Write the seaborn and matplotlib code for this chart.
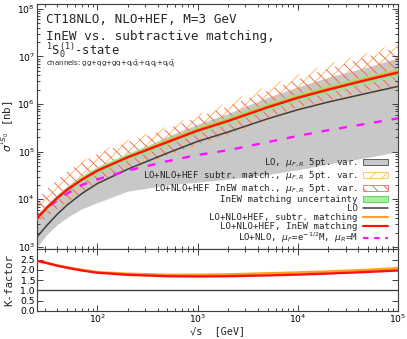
import numpy as np
import pandas as pd
import matplotlib
matplotlib.use("Agg")
import matplotlib.pyplot as plt
import seaborn as sns
from matplotlib.patches import Patch
from matplotlib.lines import Line2D
from matplotlib.ticker import LogLocator, NullFormatter, LogFormatterMathtext, FormatStrFormatter

# --- data ------------------------------------------------------------------
sqrt_s = [25, 31.6, 40, 50, 70, 100, 200, 500, 1000, 2000, 5000, 1e4, 2e4, 5e4, 1e5]

# log10(sigma / nb)
lg_lo = [3.21, 3.46, 3.69, 3.88, 4.12, 4.33, 4.63, 4.97, 5.215, 5.41, 5.69, 5.88, 6.04, 6.23, 6.37]
lg_subtr = [3.59, 3.83, 4.03, 4.21, 4.42, 4.61, 4.89, 5.22, 5.46, 5.66, 5.95, 6.15, 6.32, 6.53, 6.69]
lg_inew = [3.60, 3.83, 4.03, 4.20, 4.41, 4.60, 4.88, 5.20, 5.44, 5.64, 5.93, 6.13, 6.30, 6.51, 6.66]
lg_nlo = [3.62, 3.82, 3.98, 4.12, 4.30, 4.42, 4.60, 4.80, 4.93, 5.03, 5.20, 5.33, 5.45, 5.59, 5.70]

lg_lo_up = [3.63, 3.85, 4.05, 4.20, 4.40, 4.58, 4.92, 5.32, 5.58, 5.80, 6.14, 6.36, 6.56, 6.78, 6.97]
lg_lo_dn = [3.00, 3.27, 3.47, 3.62, 3.80, 3.93, 4.17, 4.30, 4.36, 4.42, 4.52, 4.62, 4.74, 4.88, 5.00]
lg_subtr_up = [3.96, 4.22, 4.43, 4.60, 4.80, 4.99, 5.24, 5.53, 5.78, 6.03, 6.38, 6.62, 6.84, 7.08, 7.28]
lg_subtr_dn = [3.43, 3.60, 3.77, 3.91, 4.11, 4.33, 4.60, 4.90, 5.12, 5.32, 5.62, 5.83, 6.00, 6.18, 6.32]
lg_inew_up = [3.98, 4.22, 4.42, 4.58, 4.77, 4.95, 5.20, 5.48, 5.72, 5.95, 6.28, 6.52, 6.74, 7.00, 7.20]
lg_inew_dn = [3.45, 3.63, 3.80, 3.94, 4.14, 4.38, 4.63, 4.92, 5.15, 5.36, 5.72, 5.93, 6.08, 6.27, 6.40]
lg_match_up = [3.66, 3.90, 4.11, 4.28, 4.50, 4.69, 4.97, 5.29, 5.53, 5.74, 6.03, 6.23, 6.40, 6.61, 6.76]
lg_match_dn = [3.56, 3.78, 3.98, 4.15, 4.35, 4.54, 4.82, 5.14, 5.38, 5.58, 5.87, 6.07, 6.24, 6.44, 6.59]

k_subtr = [2.42, 2.32, 2.21, 2.12, 2.00, 1.89, 1.81, 1.76, 1.76, 1.78, 1.83, 1.87, 1.92, 2.00, 2.08]
k_inew = [2.45, 2.33, 2.20, 2.10, 1.97, 1.86, 1.76, 1.69, 1.68, 1.69, 1.73, 1.77, 1.82, 1.90, 1.97]

labels = [r'LO, $\mu_{F,R}$ 5pt. var.',
          r'LO+NLO+HEF subtr. match., $\mu_{F,R}$ 5pt. var.',
          r'LO+NLO+HEF InEW match., $\mu_{F,R}$ 5pt. var.',
          'InEW matching uncertainty',
          'LO',
          'LO+NLO+HEF, subtr. matching',
          'LO+NLO+HEF, InEW matching',
          r'LO+NLO, $\mu_F$=e$^{-1/2}$M, $\mu_R$=M']

df = pd.DataFrame({'sqrt_s': sqrt_s})
for name, lg in [('lo', lg_lo), ('subtr', lg_subtr), ('inew', lg_inew), ('nlo', lg_nlo),
                 ('lo_up', lg_lo_up), ('lo_dn', lg_lo_dn), ('subtr_up', lg_subtr_up),
                 ('subtr_dn', lg_subtr_dn), ('inew_up', lg_inew_up), ('inew_dn', lg_inew_dn),
                 ('match_up', lg_match_up), ('match_dn', lg_match_dn)]:
    df[name] = np.power(10.0, lg)
df['k_subtr'] = k_subtr
df['k_inew'] = k_inew

# --- style -------------------------------------------------------------------
sns.set_style('ticks')
plt.rcParams['font.family'] = ['DejaVu Sans']
plt.rcParams['mathtext.fontset'] = 'dejavusans'
plt.rcParams['hatch.linewidth'] = 0.9
mono = 'DejaVu Sans Mono'

c_axis = '#404040'
c_gray = '#c8c8c8'
c_orange = '#ffa020'
c_orange_h = '#ffb850'
c_red = '#ff1010'
c_red_h = '#f05a5a'
c_green = '#90e890'
c_mag = '#ff10ff'

DPI = 70
fig = plt.figure(figsize=(407 / DPI, 339 / DPI), dpi=DPI)
ax = fig.add_axes([37 / 407, 1 - 249.3 / 339, 361 / 407, 245.3 / 339])
axk = fig.add_axes([37 / 407, 1 - 311 / 339, 361 / 407, 61.7 / 339], sharex=ax)

# bands
ax.fill_between(df['sqrt_s'], df['lo_dn'], df['lo_up'], color=c_gray, lw=0, zorder=1)
ax.fill_between(df['sqrt_s'], df['subtr_dn'], df['subtr_up'], facecolor='none',
                edgecolor=c_orange_h, hatch='//', lw=0, zorder=2)
ax.fill_between(df['sqrt_s'], df['inew_dn'], df['inew_up'], facecolor='none',
                edgecolor=c_red_h, hatch='\\\\', lw=0, zorder=2)
ax.fill_between(df['sqrt_s'], df['match_dn'], df['match_up'], color=c_green, alpha=0.8, lw=0, zorder=3)

# lines
sns.lineplot(data=df, x='sqrt_s', y='lo', ax=ax, color=c_axis, lw=1.6, zorder=4)
sns.lineplot(data=df, x='sqrt_s', y='nlo', ax=ax, color=c_mag, lw=2.4,
             linestyle=(0, (3.4, 4.2)), zorder=4)
sns.lineplot(data=df, x='sqrt_s', y='subtr', ax=ax, color=c_orange, lw=2.6, zorder=5)
sns.lineplot(data=df, x='sqrt_s', y='inew', ax=ax, color=c_red, lw=2.4, zorder=6)

ax.set_xscale('log')
ax.set_yscale('log')
ax.set_xlim(25, 1e5)
ax.set_ylim(10 ** 2.95, 10 ** 8.1)
ax.yaxis.set_major_locator(LogLocator(base=10, numticks=12))
ax.yaxis.set_minor_locator(LogLocator(base=10, subs=np.arange(2, 10), numticks=12))
ax.yaxis.set_major_formatter(LogFormatterMathtext())
ax.yaxis.set_minor_formatter(NullFormatter())
ax.set_xlabel('')
ax.set_ylabel(r'$\sigma^{^{1}S_{0}}$ [nb]', family=mono, fontsize=11)
ax.yaxis.set_label_coords(-0.058, 0.5)
plt.setp(ax.get_xticklabels(which='both'), visible=False)

# title text
ax.text(0.025, 0.962, 'CT18NLO, NLO+HEF, M=3 GeV', transform=ax.transAxes,
        family=mono, fontsize=13, va='top', ha='left')
ax.text(0.025, 0.895, 'InEW vs. subtractive matching,', transform=ax.transAxes,
        family=mono, fontsize=13, va='top', ha='left')
ax.text(0.025, 0.852, r'$^{\mathtt{1}}\mathtt{S}_{\mathtt{0}}^{\mathtt{(1)}}$-state',
        transform=ax.transAxes, family=mono, fontsize=12.5, va='top', ha='left')
ax.text(0.025, 0.781, r'channels: gg+qg+gq+q$_i\bar{q}_i$+q$_i$q$_j$+q$_i\bar{q}_j$',
        transform=ax.transAxes, fontsize=7.2, va='top', ha='left')

# legend
handles = [Patch(facecolor=c_gray, edgecolor=c_axis, lw=0.8),
           Patch(facecolor='white', edgecolor=c_orange_h, hatch='//', lw=0.8),
           Patch(facecolor='white', edgecolor=c_red_h, hatch='\\\\', lw=0.8),
           Patch(facecolor='#a8f0a0', edgecolor='#40d040', lw=0.8),
           Line2D([], [], color=c_axis, lw=1.6),
           Line2D([], [], color=c_orange, lw=2.2),
           Line2D([], [], color=c_red, lw=2.2),
           Line2D([], [], color=c_mag, lw=2.2, linestyle=(0, (2.6, 2.6)))]
leg = ax.legend(handles, labels, loc='lower right', bbox_to_anchor=(0.972, 0.016),
                frameon=False, markerfirst=False, prop={'family': mono, 'size': 9.4},
                handlelength=2.7, handleheight=0.6, handletextpad=0.6,
                labelspacing=0.0, borderpad=0, borderaxespad=0)

# K-factor panel
axk.axhline(1.0, color=c_axis, lw=1.4, zorder=2)
sns.lineplot(data=df, x='sqrt_s', y='k_subtr', ax=axk, color=c_orange, lw=2.6, zorder=3)
sns.lineplot(data=df, x='sqrt_s', y='k_inew', ax=axk, color=c_red, lw=2.4, zorder=4)
axk.set_ylim(0, 3)
axk.set_yticks([0, 0.5, 1.0, 1.5, 2.0, 2.5])
axk.yaxis.set_major_formatter(FormatStrFormatter('%.1f'))
axk.set_ylabel('K-factor', family=mono, fontsize=11)
axk.yaxis.set_label_coords(-0.062, 0.5)
axk.set_xlabel('√s  [GeV]', family=mono, fontsize=10.5, labelpad=1)
axk.xaxis.set_major_locator(LogLocator(base=10, numticks=10))
axk.xaxis.set_minor_locator(LogLocator(base=10, subs=np.arange(2, 10), numticks=10))
axk.xaxis.set_major_formatter(LogFormatterMathtext())

for a in (ax, axk):
    a.tick_params(which='both', direction='in', top=True, right=True, color=c_axis,
                  labelsize=9.5, labelcolor='black', pad=2)
    a.tick_params(which='major', length=6, width=1)
    a.tick_params(which='minor', length=3, width=1)
    for s in a.spines.values():
        s.set_color(c_axis)
        s.set_linewidth(1.2)
    a.set_axisbelow(False)

fig.savefig('out.png', dpi=DPI)
